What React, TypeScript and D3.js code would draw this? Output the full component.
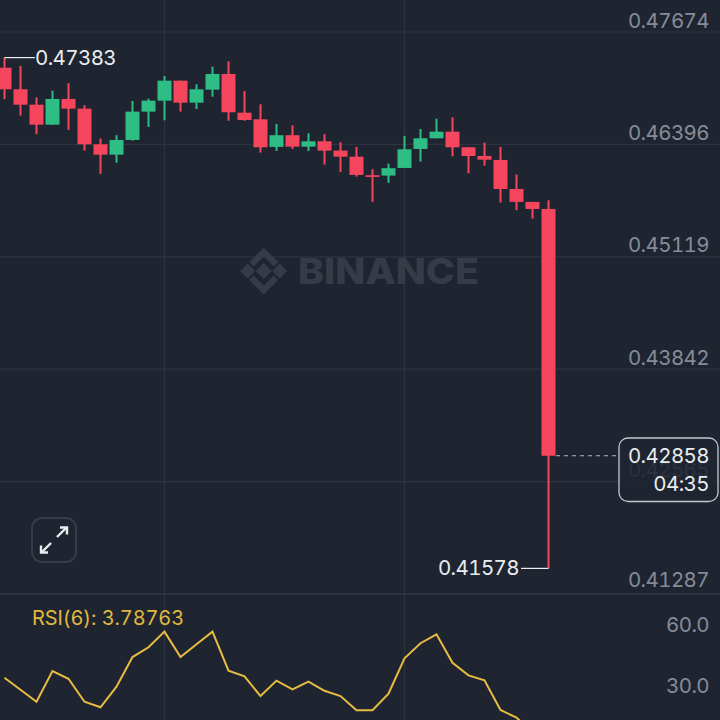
import React from "react";
import * as d3 from "d3";

const opens = [0.47268,0.47023,0.46848,0.46621,0.46913,0.46803,0.46398,0.4628,0.46447,0.46769,0.46894,0.47121,0.46871,0.47019,0.47197,0.46757,0.46682,0.46368,0.46501,0.46371,0.46432,0.46326,0.46257,0.46046,0.46042,0.46129,0.46345,0.46466,0.46541,0.46364,0.46265,0.4622,0.4589,0.45743,0.45663];
const closes = [0.47023,0.46848,0.46621,0.46913,0.46803,0.46398,0.4628,0.46447,0.46769,0.46894,0.47121,0.46871,0.47023,0.47197,0.46762,0.46674,0.46364,0.46501,0.46371,0.46432,0.46326,0.46257,0.4605,0.46027,0.46126,0.46341,0.46466,0.46541,0.46364,0.46265,0.46223,0.4589,0.45743,0.45663,0.42858];
const highs = [0.47383,0.47288,0.46932,0.47007,0.47091,0.46841,0.46462,0.46501,0.4689,0.46916,0.47174,0.47121,0.4708,0.4728,0.47341,0.47004,0.46853,0.46629,0.46614,0.46523,0.46512,0.46421,0.46368,0.46114,0.46178,0.46493,0.46572,0.46689,0.46705,0.46364,0.46416,0.46368,0.46053,0.45743,0.45762];
const lows = [0.4691,0.46723,0.46512,0.46621,0.46561,0.46326,0.46061,0.46189,0.46439,0.46595,0.46671,0.46769,0.46799,0.46939,0.46666,0.46666,0.46303,0.46322,0.46345,0.46322,0.46167,0.46084,0.4603,0.45743,0.45959,0.46129,0.46201,0.46466,0.46262,0.46069,0.46155,0.45735,0.45649,0.45553,0.41578];
const rsi = [39.8,33.9,28.0,43.1,39.3,28.0,25.3,35.4,50.0,54.8,62.5,50.0,56.3,62.5,43.3,40.5,30.8,38.4,34.1,37.9,33.4,30.8,23.8,23.8,32.0,49.4,56.8,61.2,47.2,41.0,38.6,24.0,20.2,13.0,3.78763];
const priceTicks = [0.47674,0.46396,0.45119,0.43842,0.42565,0.41287];
const rsiTicks = [60,30];
const verticalGridIndex = [10,25];

const BG = "#1f2530", GRID = "#2e343f", RED = "#f6465d", GREEN = "#2ebd85", FONT = "Inter, 'Noto Sans', sans-serif";

export default function App() {
  const idx = d3.range(opens.length);
  const x = d3.scaleLinear().domain([0, 34]).range([4.5, 548.5]);
  const y = d3.scaleLinear().domain([0.47674, 0.41287]).range([32, 594]);
  const yR = d3.scaleLinear().domain([60, 30]).range([636.7, 697.7]);
  const line = d3.line<number>().x((_, i) => x(i)).y(d => yR(d));
  const last = closes[closes.length - 1];
  const lowLast = lows[lows.length - 1];
  const hi0 = highs[0];
  const labelStyle = { fontFamily: FONT, fontSize: 20.5, style: { fontVariantNumeric: "tabular-nums", letterSpacing: "-0.6px" } } as const;
  return (
    <svg width={720} height={720} viewBox="0 0 720 720" style={{ position: "fixed", left: 0, top: 0, background: BG }}>
      <rect width={720} height={720} fill={BG} />
      {priceTicks.map(t => <line key={t} x1={0} x2={720} y1={y(t)} y2={y(t)} stroke={GRID} strokeWidth={1.2} />)}
      <line x1={0} x2={720} y1={594} y2={594} stroke={GRID} strokeWidth={2} />
      {verticalGridIndex.map(i => <line key={i} x1={x(i)} x2={x(i)} y1={0} y2={720} stroke={GRID} strokeWidth={1.2} />)}

      <g fill="#363c47">
        <g transform="translate(263.7 271)">
          <path d="M-8 0L0 -8L8 0L0 8Z" />
          <path d="M-23.5 0L-16 -7.5L-8.500 0L-16 7.500Z" />
          <path d="M23.500 0L16 -7.500L8.500 0L16 7.500Z" />
          <path d="M0 -23.500L14.500 -9L10 -4.500L0 -14.500L-10 -4.500L-14.500 -9Z" />
          <path d="M0 23.500L14.500 9L10 4.500L0 14.500L-10 4.500L-14.500 9Z" />
        </g>
        <text x={298} y={284} fontFamily={FONT} fontWeight={800} fontSize={36} textLength={181} lengthAdjust="spacingAndGlyphs">BINANCE</text>
      </g>

      {idx.map(i => {
        const up = closes[i] > opens[i];
        const c = up ? GREEN : RED;
        const top = y(Math.max(opens[i], closes[i]));
        const bot = y(Math.min(opens[i], closes[i]));
        return (
          <g key={i}>
            <line x1={x(i)} x2={x(i)} y1={y(highs[i])} y2={y(lows[i])} stroke={c} strokeWidth={2} />
            <rect x={x(i) - 7} width={14} y={top} height={Math.max(bot - top, 1.5)} fill={c} />
          </g>
        );
      })}

      <line x1={x(0)} x2={35} y1={y(hi0)} y2={y(hi0)} stroke="#eaecef" strokeWidth={1.2} />
      <text x={35} y={y(hi0) + 1.5} dominantBaseline="middle" fill="#eaecef" {...labelStyle}>{hi0.toFixed(5)}</text>
      <line x1={521} x2={x(34)} y1={y(lowLast)} y2={y(lowLast)} stroke="#eaecef" strokeWidth={1.2} />
      <text x={519} y={y(lowLast) + 1.5} dominantBaseline="middle" textAnchor="end" fill="#eaecef" {...labelStyle}>{lowLast.toFixed(5)}</text>

      {priceTicks.map(t => (
        <text key={t} x={709} y={Math.min(y(t) - 10, 581)} dominantBaseline="middle" textAnchor="end" fill="#868c97" {...labelStyle}>{t.toFixed(5)}</text>
      ))}

      <line x1={556} x2={618} y1={y(last)} y2={y(last)} stroke="#b7bcc4" strokeWidth={1.2} strokeDasharray="4 4" />
      <rect x={619} y={438} width={99} height={63.500} rx={9} fill={BG} fillOpacity={0.88} stroke="#c4c8ce" strokeWidth={1.3} />
      <text x={709} y={457} dominantBaseline="middle" textAnchor="end" fill="#eaecef" {...labelStyle}>{last.toFixed(5)}</text>
      <text x={709} y={485} dominantBaseline="middle" textAnchor="end" fill="#eaecef" {...labelStyle}>04:35</text>

      <rect x={32} y={518} width={44} height={44} rx={10} fill="none" stroke="#363c47" strokeWidth={2} />
      <g stroke="#eaecef" strokeWidth={2.4} fill="none">
        <path d="M57 537L66 528" />
        <path d="M60 527.500H67V534.500" />
        <path d="M51 543L42 552" />
        <path d="M41 545.500V552.500H48" />
      </g>

      <text x={32} y={619.500} dominantBaseline="middle" fill="#e0b83f" fontFamily={FONT} fontSize={20} style={{ fontVariantNumeric: "tabular-nums", letterSpacing: "-0.1px" }}>RSI(6): {rsi[rsi.length - 1].toFixed(5)}</text>
      <path d={line(rsi) ?? ""} fill="none" stroke="#e8bc42" strokeWidth={2} strokeLinejoin="miter" />
      {rsiTicks.map(t => (
        <text key={t} x={709} y={yR(t) - 10} dominantBaseline="middle" textAnchor="end" fill="#868c97" {...labelStyle}>{t.toFixed(1)}</text>
      ))}
    </svg>
  );
}
